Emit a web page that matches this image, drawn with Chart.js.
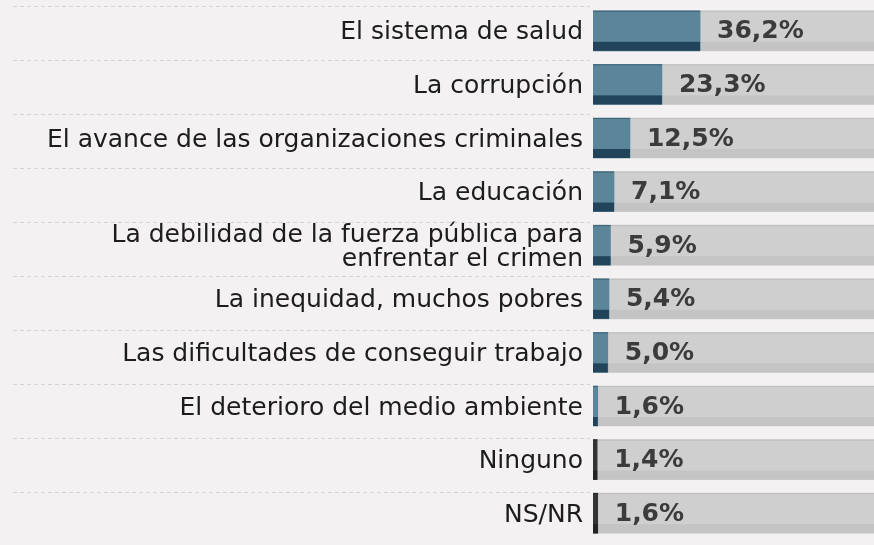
<!DOCTYPE html>
<html>
<head>
<meta charset="utf-8">
<script src="https://cdn.jsdelivr.net/npm/chart.js@4"></script>
<style>
  html, body { margin: 0; padding: 0; background: #f3f1f2; }
  #wrap { width: 874px; height: 545px; position: relative; }
</style>
</head>
<body>
<div id="wrap"><canvas id="c"></canvas></div>
<script>
const categories = [
  "El sistema de salud",
  "La corrupción",
  "El avance de las organizaciones criminales",
  "La educación",
  ["La debilidad de la fuerza pública para", "enfrentar el crimen"],
  "La inequidad, muchos pobres",
  "Las dificultades de conseguir trabajo",
  "El deterioro del medio ambiente",
  "Ninguno",
  "NS/NR"
];
const values = [36.2, 23.3, 12.5, 7.1, 5.9, 5.4, 5.0, 1.6, 1.4, 1.6];
const trackValues = [95, 95, 95, 95, 95, 95, 95, 95, 95, 95];

const BLUE = '#5b8598', BLUE_DARK = '#22445a', BLUE_TOP = '#3d6478';
const DARK = '#333333', DARK_DARK = '#222222', DARK_TOP = '#2a2a2a';
const barColors = values.map((v, i) => i >= 8 ? DARK : BLUE);
const stripColors = values.map((v, i) => i >= 8 ? DARK_DARK : BLUE_DARK);
const topColors = values.map((v, i) => i >= 8 ? DARK_TOP : BLUE_TOP);

const decor = {
  id: 'decor',
  beforeDatasetsDraw(chart) {
    const ctx = chart.ctx, ys = chart.scales.y;
    ctx.save();
    ctx.strokeStyle = '#d6d4d5';
    ctx.lineWidth = 1;
    ctx.setLineDash([4, 3]);
    for (let i = 0; i < categories.length; i++) {
      const a = ys.getPixelForValue(i);
      const half = (i + 1 < categories.length ? ys.getPixelForValue(i + 1) - a : a - ys.getPixelForValue(i - 1)) / 2;
      const y = Math.round(a - half + 2 + i * 0.35) + 0.5;
      ctx.beginPath();
      ctx.moveTo(13, y);
      ctx.lineTo(chart.chartArea.left - 3, y);
      ctx.stroke();
    }
    ctx.restore();
  },
  afterDatasetDraw(chart, args) {
    const ctx = chart.ctx;
    const meta = args.meta;
    const isTrack = args.index === 1;
    ctx.save();
    meta.data.forEach((el, i) => {
      const p = el.getProps(['x', 'y', 'base', 'height'], true);
      const left = Math.min(p.x, p.base), w = Math.abs(p.x - p.base);
      const top = p.y - p.height / 2, bottom = p.y + p.height / 2;
      ctx.fillStyle = isTrack ? '#c4c4c4' : stripColors[i];
      ctx.fillRect(left, bottom - 9, w, 9);
      ctx.fillStyle = isTrack ? '#bdbdbd' : topColors[i];
      ctx.fillRect(left, top, w, 1);
    });
    ctx.restore();
  },
  afterDatasetsDraw(chart) {
    const ctx = chart.ctx;
    const meta = chart.getDatasetMeta(0);
    ctx.save();
    ctx.fillStyle = '#3b3b3b';
    ctx.font = 'bold 25px "DejaVu Sans"';
    ctx.textBaseline = 'middle';
    ctx.textAlign = 'left';
    meta.data.forEach((el, i) => {
      const p = el.getProps(['x', 'y'], true);
      const txt = values[i].toFixed(1).replace('.', ',') + '%';
      ctx.fillText(txt, p.x + 17, p.y + 1);
    });
    ctx.restore();
  }
};

new Chart(document.getElementById('c'), {
  type: 'bar',
  data: {
    labels: categories,
    datasets: [
      { data: values, backgroundColor: barColors, grouped: false, barThickness: 40, borderWidth: 0 },
      { data: trackValues, backgroundColor: '#cfcfcf', grouped: false, barThickness: 40, borderWidth: 0 }
    ]
  },
  options: {
    indexAxis: 'y',
    responsive: true,
    maintainAspectRatio: false,
    animation: false,
    layout: { padding: { top: 4, bottom: 5, left: 0, right: 0 } },
    plugins: { legend: { display: false }, tooltip: { enabled: false } },
    scales: {
      x: { display: false, min: 0, max: 95 },
      y: {
        grid: { display: false, drawTicks: false },
        border: { display: false },
        ticks: {
          color: '#1c1c1c',
          padding: 10,
          labelOffset: 2,
          font: { family: 'DejaVu Sans', size: 25, lineHeight: 0.96 }
        },
        afterFit(scale) { scale.width = 593; scale.paddingTop = 0; scale.paddingBottom = 0; }
      }
    }
  },
  plugins: [decor]
});
</script>
</body>
</html>
